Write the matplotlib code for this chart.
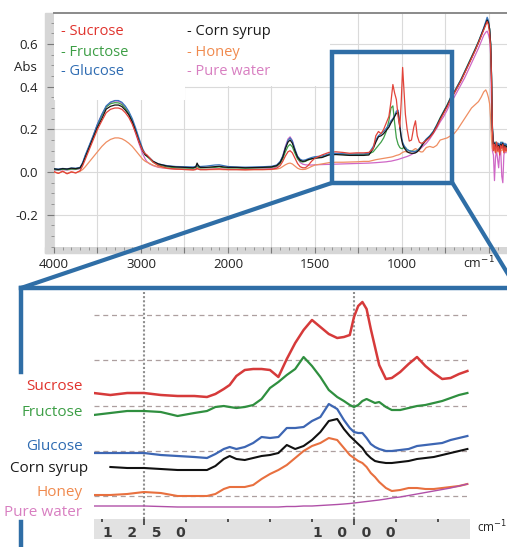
import numpy as np
import matplotlib
matplotlib.use("Agg")
import matplotlib.pyplot as plt
from matplotlib.patches import Rectangle, ConnectionPatch
from matplotlib.lines import Line2D
from matplotlib.ticker import FixedLocator, MultipleLocator

plt.rcParams['font.family'] = ['Open Sans', 'DejaVu Sans']
plt.rcParams['axes.unicode_minus'] = False

# ---------------------------------------------------------------- data
SAMPLES = ["Sucrose", "Fructose", "Glucose", "Corn syrup", "Honey", "Pure water"]

# full-range ATR-FTIR spectra (absorbance) -----------------------------
WN_TOP = [
    4000, 3950, 3900, 3850, 3800, 3750, 3700, 3670, 3640, 3600,
    3550, 3500, 3450, 3400, 3350, 3300, 3260, 3220, 3180, 3140,
    3100, 3060, 3020, 2980, 2950, 2930, 2900, 2860, 2800, 2700,
    2600, 2500, 2400, 2370, 2355, 2340, 2320, 2250, 2150, 2100,
    2050, 2000,
    1950, 1900, 1850, 1800, 1750, 1720, 1700, 1685, 1670, 1655,
    1643, 1630, 1615, 1600, 1585, 1570, 1555, 1540, 1520, 1500,
    1460, 1420, 1380, 1340, 1300, 1260, 1220, 1190, 1165, 1150,
    1135, 1120, 1105, 1090, 1075, 1063, 1052, 1042, 1032, 1022,
    1012, 1004, 996, 988, 980, 970, 958, 945, 932, 922,
    912, 900, 890, 880,
    860, 840, 820, 800, 780, 760, 740, 720, 700, 680,
    660, 640, 620, 600, 580, 560, 545, 530, 518, 510,
    503, 496, 490, 485, 480, 474, 468, 462, 456, 450,
    444, 438, 432, 426, 420, 414, 408, 402, 398,
]

sucrose_abs = [
    0.002, -0.006, 0.004, -0.008, 0.000, -0.004, 0.006, 0.030, 0.060, 0.100,
    0.150, 0.200, 0.240, 0.278, 0.294, 0.300, 0.300, 0.294, 0.278, 0.256,
    0.224, 0.182, 0.137, 0.100, 0.086, 0.080, 0.066, 0.046, 0.030, 0.018,
    0.014, 0.012, 0.010, 0.012, 0.020, 0.014, 0.012, 0.012, 0.014, 0.015,
    0.013, 0.012,
    0.012, 0.011, 0.012, 0.012, 0.013, 0.018, 0.030, 0.050, 0.075, 0.095,
    0.100, 0.090, 0.065, 0.040, 0.025, 0.020, 0.020, 0.030, 0.050, 0.065,
    0.080, 0.092, 0.095, 0.092, 0.088, 0.090, 0.090, 0.092, 0.110, 0.170,
    0.190, 0.180, 0.200, 0.230, 0.260, 0.330, 0.410, 0.370, 0.340, 0.260,
    0.210, 0.330, 0.490, 0.380, 0.270, 0.200, 0.145, 0.150, 0.210, 0.240,
    0.170, 0.140, 0.135, 0.136,
    0.148, 0.162, 0.182, 0.212, 0.245, 0.275, 0.305, 0.340, 0.368, 0.398,
    0.428, 0.462, 0.497, 0.532, 0.567, 0.605, 0.635, 0.665, 0.690, 0.705,
    0.690, 0.650, 0.580, 0.430, 0.200, 0.100, 0.130, 0.090, 0.140, 0.100,
    0.120, 0.080, 0.125, 0.110, 0.130, 0.090, 0.120, 0.100, 0.110,
]

fructose_abs = [
    0.012, 0.010, 0.013, 0.011, 0.014, 0.013, 0.018, 0.040, 0.075, 0.115,
    0.165, 0.220, 0.265, 0.305, 0.320, 0.325, 0.324, 0.316, 0.298, 0.274,
    0.240, 0.195, 0.145, 0.102, 0.080, 0.073, 0.062, 0.046, 0.033, 0.024,
    0.020, 0.019, 0.018, 0.020, 0.030, 0.022, 0.019, 0.020, 0.022, 0.024,
    0.021, 0.019,
    0.019, 0.018, 0.019, 0.020, 0.022, 0.028, 0.040, 0.062, 0.095, 0.120,
    0.130, 0.118, 0.088, 0.062, 0.050, 0.047, 0.050, 0.056, 0.062, 0.066,
    0.070, 0.082, 0.085, 0.083, 0.080, 0.082, 0.082, 0.085, 0.095, 0.110,
    0.125, 0.140, 0.160, 0.190, 0.240, 0.300, 0.310, 0.230, 0.160, 0.130,
    0.115, 0.110, 0.110, 0.118, 0.115, 0.105, 0.100, 0.098, 0.097, 0.097,
    0.100, 0.110, 0.120, 0.135,
    0.152, 0.168, 0.190, 0.220, 0.255, 0.285, 0.315, 0.350, 0.375, 0.405,
    0.435, 0.470, 0.505, 0.540, 0.575, 0.612, 0.642, 0.672, 0.700, 0.715,
    0.705, 0.670, 0.600, 0.450, 0.210, 0.130, 0.125, 0.140, 0.120, 0.135,
    0.110, 0.130, 0.120, 0.140, 0.125, 0.130, 0.115, 0.130, 0.125,
]

glucose_abs = [
    0.016, 0.014, 0.017, 0.015, 0.019, 0.018, 0.022, 0.045, 0.080, 0.120,
    0.170, 0.225, 0.270, 0.310, 0.328, 0.335, 0.335, 0.327, 0.309, 0.284,
    0.250, 0.205, 0.155, 0.108, 0.084, 0.077, 0.066, 0.050, 0.038, 0.030,
    0.026, 0.025, 0.024, 0.026, 0.036, 0.028, 0.026, 0.028, 0.033, 0.034,
    0.030, 0.026,
    0.024, 0.023, 0.024, 0.025, 0.027, 0.033, 0.050, 0.075, 0.115, 0.148,
    0.160, 0.145, 0.108, 0.075, 0.060, 0.055, 0.057, 0.062, 0.068, 0.072,
    0.075, 0.085, 0.088, 0.086, 0.084, 0.085, 0.085, 0.088, 0.120, 0.150,
    0.170, 0.180, 0.190, 0.205, 0.220, 0.240, 0.250, 0.265, 0.285, 0.290,
    0.220, 0.170, 0.140, 0.125, 0.115, 0.105, 0.100, 0.097, 0.096, 0.097,
    0.100, 0.110, 0.120, 0.135,
    0.155, 0.170, 0.190, 0.220, 0.252, 0.283, 0.313, 0.348, 0.374, 0.404,
    0.434, 0.468, 0.503, 0.538, 0.573, 0.610, 0.642, 0.675, 0.705, 0.725,
    0.710, 0.670, 0.600, 0.460, 0.220, 0.135, 0.140, 0.120, 0.140, 0.125,
    0.135, 0.120, 0.140, 0.130, 0.140, 0.120, 0.135, 0.125, 0.130,
]

corn_syrup_abs = [
    0.015, 0.012, 0.016, 0.014, 0.018, 0.016, 0.020, 0.040, 0.070, 0.110,
    0.160, 0.210, 0.250, 0.295, 0.308, 0.314, 0.314, 0.307, 0.290, 0.268,
    0.235, 0.190, 0.140, 0.100, 0.080, 0.075, 0.065, 0.050, 0.038, 0.028,
    0.024, 0.022, 0.020, 0.024, 0.042, 0.030, 0.022, 0.022, 0.025, 0.027,
    0.024, 0.022,
    0.022, 0.020, 0.021, 0.022, 0.024, 0.030, 0.045, 0.070, 0.110, 0.140,
    0.150, 0.135, 0.100, 0.070, 0.055, 0.050, 0.052, 0.058, 0.062, 0.065,
    0.068, 0.080, 0.082, 0.080, 0.078, 0.078, 0.078, 0.080, 0.110, 0.140,
    0.165, 0.170, 0.180, 0.195, 0.210, 0.230, 0.245, 0.260, 0.275, 0.280,
    0.210, 0.160, 0.130, 0.115, 0.105, 0.095, 0.090, 0.088, 0.088, 0.090,
    0.095, 0.105, 0.118, 0.130,
    0.150, 0.165, 0.185, 0.215, 0.250, 0.280, 0.310, 0.345, 0.370, 0.400,
    0.430, 0.465, 0.500, 0.535, 0.570, 0.607, 0.638, 0.668, 0.695, 0.712,
    0.700, 0.670, 0.600, 0.450, 0.200, 0.130, 0.135, 0.110, 0.130, 0.115,
    0.125, 0.105, 0.130, 0.120, 0.135, 0.110, 0.125, 0.115, 0.120,
]

honey_abs = [
    0.000, -0.006, 0.003, -0.007, 0.002, -0.004, 0.004, 0.012, 0.025, 0.045,
    0.070, 0.095, 0.120, 0.140, 0.153, 0.160, 0.160, 0.156, 0.147, 0.135,
    0.120, 0.100, 0.080, 0.060, 0.050, 0.046, 0.040, 0.032, 0.024, 0.017,
    0.014, 0.012, 0.011, 0.012, 0.016, 0.013, 0.011, 0.011, 0.012, 0.012,
    0.011, 0.011,
    0.011, 0.010, 0.011, 0.011, 0.012, 0.014, 0.018, 0.026, 0.034, 0.040,
    0.042, 0.038, 0.028, 0.018, 0.013, 0.012, 0.013, 0.018, 0.026, 0.033,
    0.038, 0.044, 0.046, 0.046, 0.047, 0.048, 0.050, 0.050, 0.055, 0.058,
    0.060, 0.062, 0.064, 0.066, 0.068, 0.070, 0.072, 0.075, 0.078, 0.080,
    0.083, 0.088, 0.092, 0.095, 0.096, 0.094, 0.093, 0.097, 0.105, 0.110,
    0.105, 0.098, 0.094, 0.095,
    0.115, 0.120, 0.115, 0.125, 0.150, 0.155, 0.160, 0.170, 0.180, 0.200,
    0.225, 0.250, 0.275, 0.300, 0.315, 0.330, 0.350, 0.375, 0.385, 0.370,
    0.350, 0.320, 0.250, 0.150, 0.110, 0.100, 0.110, 0.090, 0.105, 0.095,
    0.100, 0.090, 0.105, 0.100, 0.110, 0.095, 0.100, 0.095, 0.100,
]

water_abs = [
    0.010, 0.009, 0.011, 0.010, 0.012, 0.012, 0.016, 0.040, 0.075, 0.115,
    0.170, 0.225, 0.270, 0.305, 0.325, 0.333, 0.332, 0.322, 0.300, 0.270,
    0.230, 0.180, 0.130, 0.085, 0.060, 0.048, 0.038, 0.030, 0.022, 0.017,
    0.014, 0.013, 0.012, 0.013, 0.015, 0.013, 0.012, 0.012, 0.013, 0.014,
    0.013, 0.012,
    0.012, 0.012, 0.013, 0.014, 0.016, 0.024, 0.045, 0.075, 0.120, 0.155,
    0.165, 0.148, 0.105, 0.065, 0.045, 0.037, 0.034, 0.033, 0.033, 0.034,
    0.035, 0.036, 0.037, 0.038, 0.039, 0.040, 0.041, 0.042, 0.043, 0.044,
    0.045, 0.046, 0.047, 0.048, 0.050, 0.051, 0.053, 0.055, 0.057, 0.059,
    0.062, 0.064, 0.066, 0.068, 0.070, 0.073, 0.077, 0.082, 0.088, 0.093,
    0.098, 0.105, 0.112, 0.120,
    0.135, 0.155, 0.180, 0.205, 0.235, 0.260, 0.290, 0.325, 0.350, 0.380,
    0.410, 0.440, 0.475, 0.510, 0.545, 0.580, 0.610, 0.640, 0.655, 0.660,
    0.645, 0.620, 0.550, 0.300, 0.100, 0.080, -0.040, 0.070, 0.100, 0.060,
    0.020, 0.090, 0.100, -0.020, -0.050, 0.080, 0.100, 0.090, 0.110,
]

# fingerprint region, vertically stacked (arbitrary units) --------------
WN_ZOOM = [
    1310, 1290, 1270, 1250, 1230, 1210, 1190, 1175, 1165, 1155,
    1148, 1140, 1130, 1120, 1110, 1100, 1090, 1080, 1070, 1060,
    1050, 1040, 1030, 1020, 1012, 1005, 1000, 995, 990, 985,
    980, 975, 970, 962, 955, 945, 935, 925, 915, 905,
    895, 885, 875, 865,
]

sucrose_stack = [
    1.26, 1.24, 1.26, 1.26, 1.24, 1.23, 1.23, 1.22, 1.25, 1.30,
    1.34, 1.43, 1.49, 1.50, 1.50, 1.49, 1.42, 1.60, 1.76, 1.89,
    1.99, 1.92, 1.85, 1.81, 1.82, 1.84, 2.02, 2.13, 2.17, 2.10,
    1.90, 1.72, 1.54, 1.40, 1.41, 1.47, 1.55, 1.62, 1.53, 1.46,
    1.40, 1.41, 1.45, 1.48,
]
fructose_stack = [
    1.04, 1.06, 1.08, 1.08, 1.07, 1.03, 1.06, 1.08, 1.12, 1.13,
    1.12, 1.11, 1.12, 1.14, 1.20, 1.31, 1.37, 1.44, 1.50, 1.62,
    1.53, 1.42, 1.29, 1.22, 1.18, 1.14, 1.12, 1.14, 1.18, 1.20,
    1.18, 1.16, 1.17, 1.12, 1.09, 1.09, 1.11, 1.13, 1.14, 1.16,
    1.18, 1.21, 1.24, 1.26,
]
glucose_stack = [
    0.66, 0.66, 0.66, 0.66, 0.64, 0.63, 0.62, 0.61, 0.65, 0.70,
    0.72, 0.70, 0.72, 0.76, 0.82, 0.81, 0.82, 0.91, 0.91, 0.92,
    0.98, 1.02, 1.15, 1.10, 0.99, 0.91, 0.87, 0.86, 0.86, 0.81,
    0.75, 0.72, 0.70, 0.68, 0.68, 0.69, 0.70, 0.73, 0.74, 0.75,
    0.76, 0.79, 0.81, 0.83,
]
corn_syrup_stack = [
    np.nan, 0.52, 0.51, 0.51, 0.50, 0.49, 0.49, 0.49, 0.53, 0.60,
    0.63, 0.60, 0.59, 0.61, 0.63, 0.64, 0.66, 0.74, 0.70, 0.73,
    0.79, 0.87, 0.98, 1.00, 0.90, 0.83, 0.79, 0.75, 0.71, 0.65,
    0.61, 0.58, 0.57, 0.56, 0.56, 0.57, 0.58, 0.60, 0.61, 0.62,
    0.64, 0.66, 0.68, 0.70,
]
honey_stack = [
    0.24, 0.24, 0.25, 0.27, 0.26, 0.23, 0.23, 0.23, 0.25, 0.30,
    0.32, 0.32, 0.32, 0.34, 0.40, 0.45, 0.49, 0.54, 0.61, 0.68,
    0.73, 0.76, 0.81, 0.79, 0.71, 0.64, 0.61, 0.58, 0.56, 0.52,
    0.46, 0.42, 0.37, 0.31, 0.28, 0.29, 0.31, 0.31, 0.30, 0.30,
    0.31, 0.32, 0.33, 0.35,
]
water_stack = [
    0.130, 0.130, 0.130, 0.130, 0.125, 0.120, 0.120, 0.120, 0.120, 0.120,
    0.120, 0.120, 0.120, 0.120, 0.120, 0.120, 0.120, 0.125, 0.125, 0.130,
    0.130, 0.135, 0.140, 0.145, 0.150, 0.155, 0.160, 0.165, 0.170, 0.175,
    0.180, 0.185, 0.190, 0.200, 0.210, 0.220, 0.235, 0.250, 0.265, 0.280,
    0.295, 0.310, 0.330, 0.350,
]

TOP_TICKS = [4000, 3500, 3000, 2500, 2000, 1750, 1500, 1250, 1000, 750, 500]
TOP_TICK_LABELS = ["4000", "", "3000", "", "2000", "", "1500", "", "1000", "", ""]
ABS_TICKS = [-0.2, 0.0, 0.2, 0.4, 0.6]
ABS_TICK_LABELS = ["-0.2", "0.0", "0.2", "0.4", "0.6"]
ZOOM_TICKS = [1250, 1000]
ZOOM_TICK_LABELS = ["1   2   5   0", "1   0   0   0"]
ZOOM_WINDOW_WN = (1400, 710)
ZOOM_WINDOW_ABS = (-0.05, 0.56)

# ---------------------------------------------------------------- styles
TEXT_COLORS = ["#e0332d", "#3c9e45", "#2f6cb2", "#1b1b1b", "#f08a4e", "#d87fc1"]
TOP_COLORS = ["#e2443a", "#3f9f48", "#3873bd", "#151515", "#ef8e62", "#cf67c6"]
ZOOM_COLORS = ["#d63a3a", "#2f8f3f", "#3d66b3", "#111111", "#e8703f", "#b050a8"]
ZOOM_WIDTHS = [1.8, 1.6, 1.6, 1.5, 1.5, 1.0]
BLUE = "#2f6ea6"

W, H = 507, 547
fig = plt.figure(figsize=(W / 100, H / 100), dpi=100)


def fx(px):
    return px / W


def fy(py):
    return 1 - py / H


# grey tick bands framing the upper plot
fig.add_artist(Rectangle((fx(45), fy(253)), fx(54) - fx(45), fy(13) - fy(253),
                         transform=fig.transFigure, color="#d6d6d6", zorder=-1))
fig.add_artist(Rectangle((fx(45), fy(253)), 1 - fx(45), fy(247) - fy(253),
                         transform=fig.transFigure, color="#d6d6d6", zorder=-1))

# ---------------------------------------------------------------- upper panel
ax = fig.add_axes([fx(54), fy(247), 1 - fx(54), fy(13) - fy(247)])


def wn_forward(x):
    x = np.asarray(x, dtype=float)
    return np.where(x >= 2000, x, 2 * x - 2000)


def wn_inverse(u):
    u = np.asarray(u, dtype=float)
    return np.where(u >= 2000, u, (u + 2000) / 2)


ax.set_xscale("function", functions=(wn_forward, wn_inverse))
ax.set_xlim(4000, 396)
ax.set_ylim(-0.351, 0.745)

ax.set_xticks(TOP_TICKS, TOP_TICK_LABELS)
ax.xaxis.set_minor_locator(FixedLocator(list(range(3900, 2000, -100)) + list(range(1950, 400, -50))))
ax.set_yticks(ABS_TICKS, ABS_TICK_LABELS)
ax.yaxis.set_minor_locator(MultipleLocator(0.05))
ax.grid(True, which="major", color="#dadada", lw=0.8)
ax.set_axisbelow(True)
ax.tick_params(axis="both", which="major", direction="out", color="#7a7a7a",
               width=0.8, labelsize=9.5, labelcolor="#222222")
ax.tick_params(axis="y", which="major", length=5, pad=6.5)
ax.tick_params(axis="x", which="major", length=4, pad=4)
ax.tick_params(axis="both", which="minor", direction="out", color="#8a8a8a",
               width=0.6, length=2.5)
for side in ("left", "bottom", "right"):
    ax.spines[side].set_visible(False)
ax.spines["top"].set_color("#8a8a8a")
ax.spines["top"].set_linewidth(1.4)

# white legend panel
ax.add_patch(Rectangle((0, 0.628), 0.289, 0.372, transform=ax.transAxes,
                       facecolor="white", edgecolor="none", zorder=1))
ax.add_patch(Rectangle((0, 0.688), 0.609, 0.312, transform=ax.transAxes,
                       facecolor="white", edgecolor="none", zorder=1))

top_series = [sucrose_abs, fructose_abs, glucose_abs, corn_syrup_abs, honey_abs, water_abs]
for idx in (5, 4, 1, 2, 3, 0):
    ax.plot(WN_TOP, top_series[idx], color=TOP_COLORS[idx], lw=0.9, zorder=2)

legend_pos = [(0.0155, 0.919), (0.0155, 0.833), (0.0155, 0.748),
              (0.2936, 0.919), (0.2936, 0.833), (0.2936, 0.748)]
for name, color, (lx, ly) in zip(SAMPLES, TEXT_COLORS, legend_pos):
    ax.text(lx, ly, "- " + name, color=color, fontsize=10.5, ha="left", va="center",
            transform=ax.transAxes, zorder=3)

ax.text(-0.062, 0.769, "Abs", transform=ax.transAxes, ha="center", va="center",
        fontsize=9.5, color="#222222")
ax.text(0.903, -0.068, "cm$^{-1}$", transform=ax.transAxes, ha="left", va="center",
        fontsize=9, color="#222222")

# zoom window on the fingerprint region
ax.add_patch(Rectangle((ZOOM_WINDOW_WN[0], ZOOM_WINDOW_ABS[0]),
                       ZOOM_WINDOW_WN[1] - ZOOM_WINDOW_WN[0],
                       ZOOM_WINDOW_ABS[1] - ZOOM_WINDOW_ABS[0],
                       fill=False, edgecolor=BLUE, lw=3.2, clip_on=False, zorder=6))

# ---------------------------------------------------------------- lower panel
axz = fig.add_axes([fx(94), fy(519), fx(470) - fx(94), fy(292) - fy(519)])
axz.set_xlim(1309.5, 861.9)
axz.set_ylim(0, 2.27)
for s in axz.spines.values():
    s.set_visible(False)
axz.set_xticks([])
axz.set_yticks(np.arange(0.23, 2.1, 0.4525))
axz.tick_params(axis="y", left=False, labelleft=False)
axz.grid(True, axis="y", color="#ad9f9f", lw=0.9, ls=(0, (4, 3)))
for w in ZOOM_TICKS:
    axz.axvline(w, color="#8f8f8f", ls=(0, (1, 1)), lw=1.5, zorder=1)

zoom_series = [sucrose_stack, fructose_stack, glucose_stack, corn_syrup_stack,
               honey_stack, water_stack]
for vals, color, lw in zip(zoom_series, ZOOM_COLORS, ZOOM_WIDTHS):
    axz.plot(WN_ZOOM, vals, color=color, lw=lw, zorder=2, solid_joinstyle="round")

axb = fig.add_axes([fx(94), fy(539), fx(470) - fx(94), fy(519) - fy(539)])
axb.set_facecolor("#e2e2e2")
axb.set_xlim(1309.5, 861.9)
axb.set_ylim(0, 1)
for s in axb.spines.values():
    s.set_visible(False)
axb.set_yticks([])
axb.set_xticks(ZOOM_TICKS, ZOOM_TICK_LABELS, fontsize=10, fontweight="bold",
               family="DejaVu Sans", color="#3a3a3a")
axb.xaxis.set_minor_locator(MultipleLocator(50))
axb.tick_params(axis="x", which="both", bottom=False, top=True, direction="in",
                color="#444444", width=1.3, labelbottom=True, labeltop=False)
axb.tick_params(axis="x", which="major", length=4, pad=-9.5)
axb.tick_params(axis="x", which="minor", length=2)

fig.text(fx(477), fy(527), "cm$^{-1}$", ha="left", va="center", fontsize=8.5, color="#222222")

label_pos = [(83, 387), (83, 412), (83, 447), (88, 468), (83, 492), (82, 512)]
for name, color, (px, py) in zip(SAMPLES, TEXT_COLORS, label_pos):
    fig.text(fx(px), fy(py), name, ha="right", va="center", fontsize=11, color=color)

# ---------------------------------------------------------------- zoom connectors
for wn_corner, target in ((ZOOM_WINDOW_WN[0], (21, 288)), (ZOOM_WINDOW_WN[1], (525, 302))):
    con = ConnectionPatch(xyA=(wn_corner, ZOOM_WINDOW_ABS[0]), coordsA=ax.transData,
                          xyB=(fx(target[0]), fy(target[1])), coordsB=fig.transFigure,
                          color=BLUE, lw=3.0, zorder=10)
    fig.add_artist(con)

frame_kw = dict(transform=fig.transFigure, color=BLUE, lw=3.2, zorder=10,
                solid_capstyle="projecting")
fig.add_artist(Line2D([fx(21), 1.01], [fy(288), fy(288)], **frame_kw))
fig.add_artist(Line2D([fx(21), fx(21)], [fy(288), fy(372)], **frame_kw))
fig.add_artist(Line2D([fx(21), fx(21)], [fy(522), fy(550)], **frame_kw))

fig.savefig("out.png", dpi=100, facecolor="white")
